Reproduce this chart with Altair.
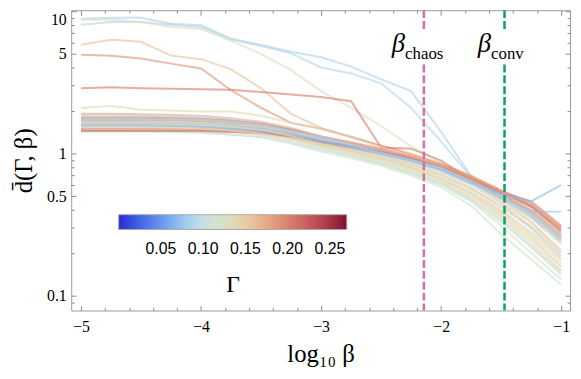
import altair as alt
import pandas as pd

# ---------------- data ----------------
log_beta = [-5.0, -4.75, -4.5, -4.25, -4.0, -3.75, -3.5, -3.25, -3.0,
            -2.75, -2.5, -2.25, -2.0, -1.75, -1.5, -1.25, -1.0]

gamma_values = [
    0.085, 0.09, 0.13, 0.16, 0.19, 0.205, 0.14,
    0.115, 0.12, 0.125, 0.11, 0.13, 0.135, 0.14, 0.145, 0.09, 0.15,
    0.155, 0.095, 0.16, 0.17, 0.18, 0.08, 0.19, 0.2, 0.21, 0.175,
    0.065, 0.07, 0.085, 0.125, 0.14,
]

d_values = [
    [8.84, 8.98, 8.98, 8.16, 7.96, 6.42, 5.78, 5.19, 4.75, 4.08, 3.32, 2.74, 1.42, 0.69, 0.52, 0.38, 0.26],
    [8.03, 8.39, 8.39, 8.03, 7.74, 6.32, 5.69, 5.05, 4.02, 3.65, 3.11, 2.09, 1.21, 0.68, 0.50, 0.36, 0.24],
    [8.70, 8.74, 8.39, 7.74, 7.50, 6.20, 5.00, 3.85, 2.74, 2.09, 1.56, 1.12, 0.86, 0.64, 0.45, 0.30, 0.18],
    [5.80, 6.30, 6.10, 4.87, 4.60, 3.90, 2.87, 1.90, 1.51, 1.30, 1.14, 1.00, 0.85, 0.70, 0.55, 0.42, 0.29],
    [4.94, 4.87, 4.65, 4.28, 3.96, 2.78, 2.09, 1.64, 1.49, 1.31, 1.13, 0.98, 0.84, 0.69, 0.55, 0.44, 0.30],
    [2.87, 2.92, 2.87, 2.85, 2.83, 2.80, 2.70, 2.60, 2.49, 2.33, 1.10, 1.08, 0.89, 0.65, 0.54, 0.46, 0.31],
    [2.09, 2.16, 2.03, 2.00, 1.97, 1.97, 1.84, 1.64, 1.50, 1.30, 1.10, 0.95, 0.80, 0.62, 0.48, 0.33, 0.20],
    [1.45, 1.45, 1.44, 1.43, 1.41, 1.36, 1.30, 1.17, 1.03, 0.93, 0.82, 0.70, 0.58, 0.43, 0.27, 0.18, 0.12],
    [1.52, 1.52, 1.51, 1.50, 1.47, 1.42, 1.35, 1.22, 1.07, 0.96, 0.84, 0.72, 0.60, 0.46, 0.31, 0.20, 0.13],
    [1.60, 1.60, 1.59, 1.58, 1.55, 1.49, 1.40, 1.26, 1.10, 0.99, 0.87, 0.74, 0.62, 0.48, 0.34, 0.22, 0.14],
    [1.42, 1.42, 1.42, 1.41, 1.40, 1.36, 1.31, 1.20, 1.06, 0.96, 0.85, 0.73, 0.61, 0.47, 0.33, 0.22, 0.145],
    [1.68, 1.68, 1.67, 1.65, 1.62, 1.55, 1.45, 1.30, 1.13, 1.01, 0.89, 0.77, 0.64, 0.50, 0.36, 0.24, 0.15],
    [1.56, 1.56, 1.56, 1.55, 1.53, 1.48, 1.41, 1.29, 1.14, 1.03, 0.91, 0.79, 0.66, 0.52, 0.38, 0.26, 0.16],
    [1.74, 1.74, 1.73, 1.71, 1.68, 1.61, 1.51, 1.35, 1.17, 1.05, 0.93, 0.80, 0.67, 0.53, 0.39, 0.27, 0.17],
    [1.48, 1.48, 1.48, 1.47, 1.46, 1.42, 1.37, 1.27, 1.14, 1.04, 0.93, 0.81, 0.69, 0.55, 0.40, 0.28, 0.18],
    [1.62, 1.62, 1.61, 1.60, 1.58, 1.53, 1.46, 1.34, 1.19, 1.08, 0.96, 0.84, 0.71, 0.57, 0.42, 0.30, 0.19],
    [1.80, 1.80, 1.79, 1.77, 1.73, 1.66, 1.56, 1.40, 1.21, 1.09, 0.97, 0.84, 0.71, 0.57, 0.43, 0.31, 0.20],
    [1.55, 1.55, 1.55, 1.54, 1.53, 1.49, 1.44, 1.34, 1.20, 1.10, 0.99, 0.87, 0.74, 0.60, 0.45, 0.33, 0.21],
    [1.70, 1.70, 1.69, 1.68, 1.66, 1.61, 1.53, 1.40, 1.24, 1.12, 1.00, 0.88, 0.75, 0.61, 0.47, 0.35, 0.23],
    [1.64, 1.64, 1.64, 1.63, 1.61, 1.57, 1.50, 1.38, 1.23, 1.12, 1.01, 0.89, 0.77, 0.63, 0.48, 0.36, 0.24],
    [1.46, 1.46, 1.46, 1.46, 1.45, 1.42, 1.38, 1.30, 1.18, 1.09, 0.99, 0.89, 0.78, 0.64, 0.50, 0.38, 0.25],
    [1.72, 1.72, 1.72, 1.71, 1.69, 1.64, 1.57, 1.44, 1.28, 1.16, 1.04, 0.92, 0.79, 0.65, 0.51, 0.39, 0.26],
    [1.85, 1.85, 1.84, 1.82, 1.79, 1.72, 1.62, 1.46, 1.28, 1.15, 1.03, 0.90, 0.77, 0.63, 0.49, 0.37, 0.25],
    [1.50, 1.50, 1.50, 1.50, 1.49, 1.46, 1.42, 1.34, 1.22, 1.13, 1.03, 0.92, 0.80, 0.67, 0.52, 0.40, 0.27],
    [1.78, 1.78, 1.78, 1.77, 1.75, 1.70, 1.62, 1.48, 1.31, 1.19, 1.07, 0.95, 0.82, 0.68, 0.53, 0.42, 0.28],
    [1.44, 1.44, 1.44, 1.44, 1.44, 1.42, 1.39, 1.32, 1.21, 1.12, 1.03, 0.93, 0.81, 0.67, 0.54, 0.43, 0.29],
    [1.90, 1.90, 1.89, 1.87, 1.84, 1.77, 1.67, 1.51, 1.32, 1.20, 1.08, 0.95, 0.82, 0.68, 0.54, 0.44, 0.30],
    [1.58, 1.58, 1.57, 1.56, 1.54, 1.50, 1.44, 1.34, 1.21, 1.11, 1.00, 0.89, 0.77, 0.62, 0.52, 0.46, 0.60],
    [1.66, 1.66, 1.65, 1.64, 1.62, 1.57, 1.50, 1.38, 1.24, 1.13, 1.02, 0.90, 0.78, 0.63, 0.49, 0.39, 0.39],
    [1.76, 1.76, 1.76, 1.75, 1.73, 1.68, 1.60, 1.42, 1.30, 1.15, 1.00, 0.90, 0.79, 0.62, 0.50, 0.38, 0.26],
    [1.53, 1.53, 1.53, 1.52, 1.50, 1.45, 1.38, 1.26, 1.11, 1.00, 0.88, 0.76, 0.63, 0.49, 0.35, 0.23, 0.15],
    [1.66, 1.66, 1.65, 1.64, 1.61, 1.55, 1.47, 1.33, 1.16, 1.04, 0.92, 0.79, 0.66, 0.52, 0.37, 0.25, 0.16],
]

marker_names = ["chaos", "conv"]
marker_log_beta = [-2.144, -1.472]
marker_colors = ["#d4709f", "#0e9e6c"]
label_anchor_x = [-2.30, -1.584]
label_beta_y = [5.19, 5.19]
label_sub_y = [4.64, 4.64]
gap_top = [7.4, 7.4]
gap_bottom = [4.22, 4.22]

gamma_stops = [0.0, 0.04, 0.075, 0.1, 0.125, 0.15, 0.18, 0.21, 0.24, 0.27]
gamma_colors = ["#2a2ad2", "#5b82ea", "#9dc6f0", "#c9e0e4", "#dfdfc4",
                "#ead0aa", "#e3a27f", "#d2736a", "#b8444f", "#7c1232"]

x_major = [-5, -4, -3, -2, -1]
x_minor = [-4.8, -4.6, -4.4, -4.2, -3.8, -3.6, -3.4, -3.2, -2.8, -2.6,
           -2.4, -2.2, -1.8, -1.6, -1.4, -1.2]
y_major = [0.1, 0.5, 1, 5, 10]
y_minor = [0.09, 0.2, 0.3, 0.4, 0.6, 0.7, 0.8, 0.9, 2, 3, 4, 6, 7, 8, 9]

X_DOMAIN = [-5.082, -0.926]
Y_DOMAIN = [0.0787, 10.16]

# ---------------- tables ----------------
rows = []
for i, (g, ys) in enumerate(zip(gamma_values, d_values)):
    for xv, yv in zip(log_beta, ys):
        rows.append({"curve": i, "gamma": g, "log_beta": xv, "d": yv})
df = pd.DataFrame(rows)

rules_upper = pd.DataFrame({"log_beta": marker_log_beta, "y1": [Y_DOMAIN[1]] * 2,
                            "y2": gap_top, "color": marker_colors})
rules_lower = pd.DataFrame({"log_beta": marker_log_beta, "y1": gap_bottom,
                            "y2": [Y_DOMAIN[0]] * 2, "color": marker_colors})
labels = pd.DataFrame({"x": label_anchor_x, "yb": label_beta_y, "ys": label_sub_y,
                       "beta": ["β", "β"], "sub": marker_names})

xs = alt.Scale(domain=X_DOMAIN, nice=False, zero=False)
ys = alt.Scale(type="log", domain=Y_DOMAIN, nice=False)

SERIF = "Liberation Serif"
TICK = "#8a8a8a"


def tick_axis(orient, values, size):
    return alt.Axis(orient=orient, values=values, labels=False, domain=False,
                    ticks=True, tickSize=size, offset=-size, tickColor=TICK,
                    tickWidth=1, grid=False, title=None)


x_main = alt.X("log_beta:Q", scale=xs, axis=alt.Axis(
    orient="bottom", values=x_major, format="d", ticks=False, tickSize=0,
    domain=False, grid=False, labelFont=SERIF, labelFontSize=16,
    labelColor="black", labelPadding=8, title="log₁₀ β", titleFont=SERIF,
    titleFontSize=25, titleFontWeight="normal", titleColor="black",
    titlePadding=8))
y_main = alt.Y("d:Q", scale=ys, axis=alt.Axis(
    orient="left", values=y_major, format="~g", ticks=False, tickSize=0,
    domain=False, grid=False, labelFont=SERIF, labelFontSize=16,
    labelColor="black", labelPadding=5, labelFlush=3, title="d̄(Γ, β)",
    titleFont=SERIF, titleFontSize=25, titleFontWeight="normal",
    titleColor="black", titlePadding=10))

lines = alt.Chart(df).mark_line(strokeWidth=2, strokeOpacity=0.62).encode(
    x=x_main,
    y=y_main,
    color=alt.Color("gamma:Q", scale=alt.Scale(domain=gamma_stops, range=gamma_colors),
                    legend=alt.Legend(
                        orient="none", legendX=48, legendY=207,
                        direction="horizontal", gradientLength=231,
                        gradientThickness=15, values=[0.05, 0.1, 0.15, 0.2, 0.25],
                        format=".2f", labelFont="Liberation Sans", labelFontSize=16,
                        labelColor="black", labelOffset=12, title="Γ",
                        titleOrient="bottom", titleAnchor="middle",
                        titleFont=SERIF, titleFontSize=24,
                        titleFontWeight="normal", titleColor="black",
                        titlePadding=16, gradientStrokeColor="#aaaaaa",
                        gradientStrokeWidth=1, gradientOpacity=1, padding=0)),
    detail="curve:N",
)

rule_up = alt.Chart(rules_upper).mark_rule(strokeWidth=2.5, strokeDash=[8, 3]).encode(
    x=alt.X("log_beta:Q", scale=xs, axis=tick_axis("bottom", x_major, 5)),
    y=alt.Y("y1:Q", scale=ys, axis=tick_axis("left", y_major, 5)),
    y2="y2:Q",
    stroke=alt.Stroke("color:N", scale=None),
)

rule_low = alt.Chart(rules_lower).mark_rule(strokeWidth=2.5, strokeDash=[8, 3]).encode(
    x=alt.X("log_beta:Q", scale=xs, axis=tick_axis("bottom", x_minor, 3)),
    y=alt.Y("y1:Q", scale=ys, axis=tick_axis("left", y_minor, 3)),
    y2="y2:Q",
    stroke=alt.Stroke("color:N", scale=None),
)

beta_text = alt.Chart(labels).mark_text(
    align="right", baseline="alphabetic", font=SERIF, fontSize=27,
    fontStyle="italic", color="black").encode(
    x=alt.X("x:Q", scale=xs, axis=tick_axis("top", x_major, 5)),
    y=alt.Y("yb:Q", scale=ys, axis=tick_axis("right", y_major, 5)),
    text="beta:N",
)

sub_text = alt.Chart(labels).mark_text(
    align="left", baseline="alphabetic", font=SERIF, fontSize=17,
    color="black").encode(
    x=alt.X("x:Q", scale=xs, axis=tick_axis("top", x_minor, 3)),
    y=alt.Y("ys:Q", scale=ys, axis=tick_axis("right", y_minor, 3)),
    text="sub:N",
)

chart = alt.layer(lines, rule_up, rule_low, beta_text, sub_text).resolve_axis(
    x="independent", y="independent"
).properties(
    width=505, height=304,
    autosize=alt.AutoSizeParams(type="none"),
    padding={"left": 64, "top": 0, "right": 3, "bottom": 58},
    background="white",
).configure_view(stroke="#9a9a9a", strokeWidth=1)

chart.save("out.html", embed_options={"renderer": "svg", "actions": False})
